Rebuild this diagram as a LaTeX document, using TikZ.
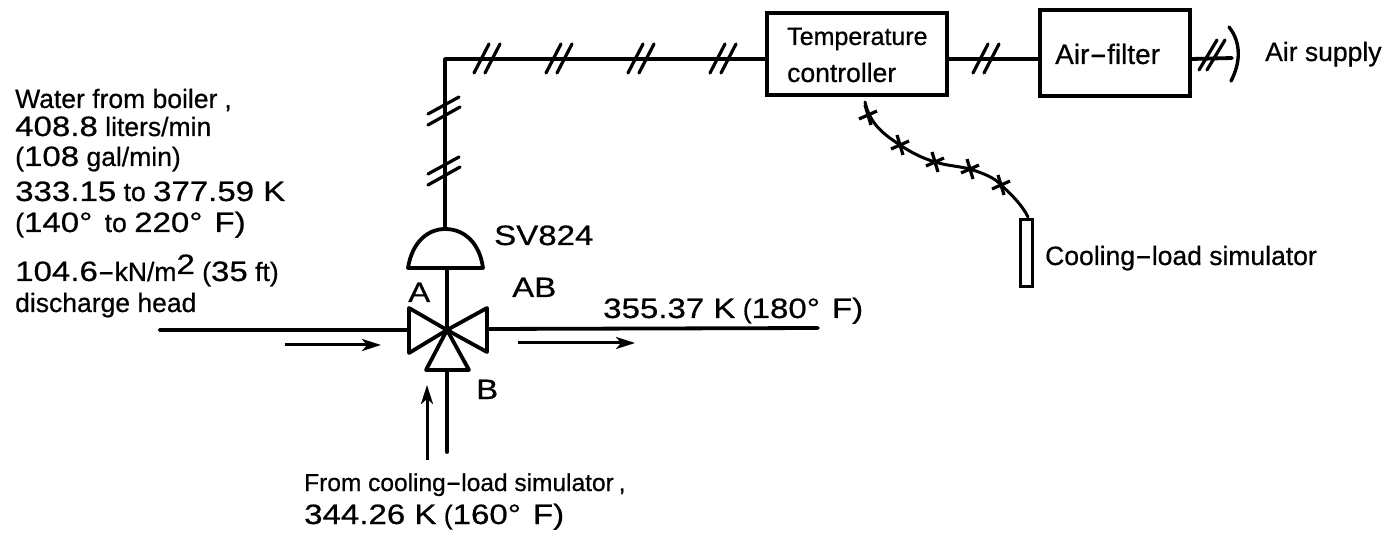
\documentclass[tikz,border=0pt]{standalone}
\usepackage{fontspec}
\setmainfont[FakeBold=0.6]{Liberation Sans}
\newfontfamily\widefont[FakeStretch=1.18,FakeBold=0.6]{Liberation Sans}
\usetikzlibrary{arrows.meta}
\newcommand{\nm}[1]{{\widefont\fontsize{28}{28}\selectfont #1}}
\newcommand{\hy}{\scalebox{1.9}[1.1]{-}}
\tikzset{
  x=1pt,y=-1pt,
  pipe/.style={line width=3.8pt,line cap=round,line join=round},
  sym/.style={line width=3.8pt,line join=round,fill=white},
  flow/.style={line width=3pt,-{Stealth[length=19pt,width=12pt,inset=5pt]}},
  tick/.style={line width=3.2pt,line cap=round},
  boxn/.style={draw,line width=3.6pt,inner sep=0pt,fill=white,align=center},
  lbl/.style={inner sep=0pt,anchor=base west,font=\fontsize{26.5}{26.5}\selectfont},
}
\begin{document}
\begin{tikzpicture}
\useasboundingbox (0,0) rectangle (1394,534);
% boxes
\node[boxn,minimum width=180pt,minimum height=82pt] (tc) at (857,54) {};
\node[boxn,minimum width=150pt,minimum height=86pt] (af) at (1115,53) {};
\node[boxn,minimum width=12pt,minimum height=67pt,line width=3pt] (cl) at (1026,253) {};
% coordinates
\coordinate (corner) at (445,59);
\coordinate (domeTop) at (445,229);
\coordinate (ctr) at (447,330);
\coordinate (inL) at (160,330);
\coordinate (outR) at (818,328);
\coordinate (inB) at (447,452);
\coordinate (supply) at (1232,58);
% pipes
\draw[pipe] (domeTop) -- (corner) -- (tc.west |- corner);
\draw[pipe] (tc.east |- corner) -- (af.west |- corner);
\draw[pipe] (af.east |- corner) -- (supply);
\draw[pipe] (ctr) -- (447,268);
\draw[pipe] (inL) -- (408,330);
\draw[pipe] (487,329) -- (outR);
\draw[pipe] (447,370) -- (inB);
% dome
\draw[sym] (408,268) .. controls (412,242) and (428,229) .. (domeTop) .. controls (466,229) and (480,245) .. (483,268) -- cycle;
% valve
\draw[sym] (ctr) -- (409,308) -- (409,353) -- cycle;
\draw[sym] (ctr) -- (487,308) -- (487,352) -- cycle;
\draw[sym] (ctr) -- (426,370) -- (469,370) -- cycle;
% ticks vertical
\foreach \yy in {111,171}{
 \draw[tick] (428,\yy+3) -- (459,\yy-14);
 \draw[tick] (428,\yy+14) -- (460,\yy-4);
}
% ticks horizontal
\foreach \xx in {486,558,640,722,985}{
 \draw[tick] (\xx-12,73) -- (\xx+3,44);
 \draw[tick] (\xx-1,73) -- (\xx+14,44);
}
\draw[tick] (1199,70) -- (1217,40);
\draw[tick] (1207,70) -- (1225,40);
% air supply
\draw[line width=3.4pt,line cap=round] (1229,27) .. controls (1241,42) and (1241,62) .. (1231,81);
% flows
\draw[flow] (285,345) -- (381,345);
\draw[flow] (518,343) -- (635,343);
\draw[flow] (427,460) -- (427,385);
% capillary
\draw[line width=3pt,line cap=round] (865,102) .. controls (870,125) and (885,135) .. (900,145) .. controls (912,153) and (922,158) .. (935,162) .. controls (948,166) and (958,166) .. (970,169) .. controls (985,174) and (995,178) .. (1001,185) .. controls (1012,195) and (1022,205) .. (1028,217);
\foreach \px/\py in {868/115,900/145,935/162,970/169,1001/185}{
 \draw[line width=3.2pt] (\px-9,\py+4) -- (\px+9,\py-4);
 \draw[line width=3.2pt] (\px-3,\py-10) -- (\px+3,\py+10);
}
% labels
\node[lbl,font=\fontsize{25}{25}\selectfont] (t1) at (787,45) {Temperature};
\node[lbl] (t2) at (787,82) {controller};
\node[lbl,font=\fontsize{28}{28}\selectfont] (t3) at (1055,64) {Air\hy filter};
\node[lbl] (t4) at (1265,61) {Air supply};
\node[lbl] (t5) at (1045,265) {Cooling\hy load simulator};
\node[lbl] (t6) at (494,245) {\nm{SV824}};
\node[lbl] (t7) at (408,302) {\nm{A}};
\node[lbl] (t8) at (512,297) {\nm{AB}};
\node[lbl] (t9) at (476,399) {\nm{B}};
\node[lbl] (t10) at (603,318) {\nm{355.37 K} (\nm{180°}\hspace{12pt}\nm{F)}};
\node[lbl] (t11) at (15,108) {Water from boiler\hspace{7pt},};
\node[lbl] (t12) at (15,136) {\nm{408.8} liters/min};
\node[lbl] (t13) at (15,166) {(\nm{108} gal/min)};
\node[lbl] (t14) at (15,201) {\nm{333.15} to \nm{377.59 K}};
\node[lbl] (t15) at (15,232) {(\nm{140°}\hspace{5pt} to \nm{220°}\hspace{12pt}\nm{F)}};
\node[lbl] (t16) at (15,281) {\nm{104.6}\hy kN/m\raisebox{7pt}{\nm{2}} (\nm{35} ft)};
\node[lbl] (t17) at (15,312) {discharge head};
\node[lbl,font=\fontsize{24.5}{24.5}\selectfont] (t18) at (304,491) {From cooling\hy load simulator\hspace{5pt},};
\node[lbl] (t19) at (304,524) {\nm{344.26 K} (\nm{160°}\hspace{12pt}\nm{F)}};
\end{tikzpicture}
\end{document}
